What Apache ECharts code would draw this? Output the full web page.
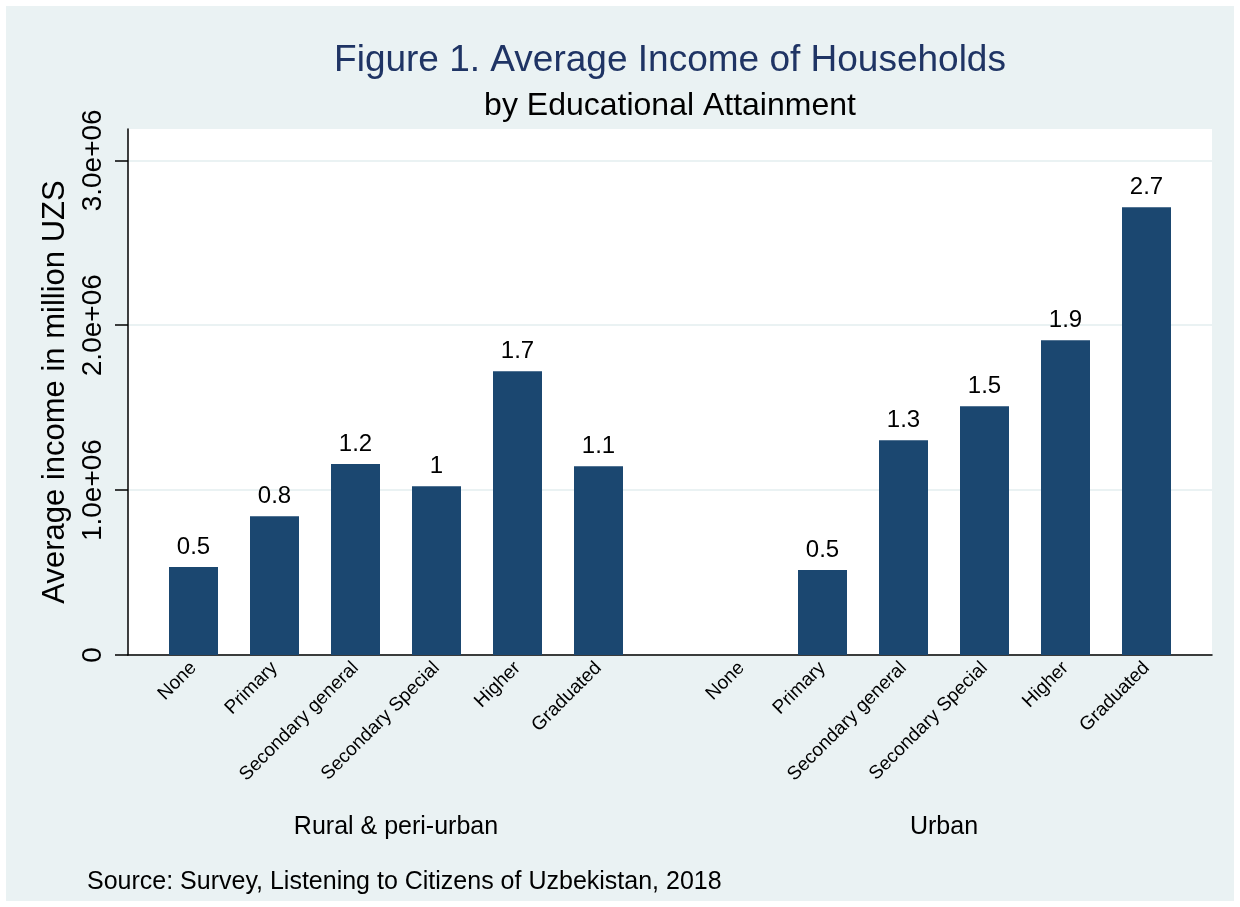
<!DOCTYPE html>
<html>
<head>
<meta charset="utf-8">
<script src="https://cdn.jsdelivr.net/npm/echarts@6/dist/echarts.min.js"></script>
<style>
  html, body { margin: 0; padding: 0; background: #fff; }
  /* white frame round the stata graph region */
  #main { position: absolute; left: 6px; top: 6px; width: 1228px; height: 895px; }
</style>
</head>
<body>
<div id="main"></div>
<script>
// chart data
const categories = ['None', 'Primary', 'Secondary general', 'Secondary Special', 'Higher', 'Graduated'];
const ruralIncome = [533000, 842000, 1158000, 1024000, 1721000, 1145000];
const urbanIncome = [null, 515000, 1303000, 1509000, 1909000, 2715000];
const groups = ['Rural & peri-urban', 'Urban'];
const yTicks = [0, 1000000, 2000000, 3000000];

const FONT = '"Liberation Sans", Arial, sans-serif';
const NAVY = '#1b4770';
const BG = '#eaf2f3';
const yMax = 3190000;

function tickLabel(v) {
  if (v === 0) return '0';
  return v.toExponential(1).replace(/e\+(\d)$/, 'e+0$1');
}
function valueLabel(p) {
  if (p.value == null) return '';
  return String(Number((p.value / 1e6).toFixed(1)));
}

const plot = { left: 122, right: 22, top: 123, bottom: 246 };

function barGrid(left) {
  return { left: left, width: 486, top: plot.top, bottom: plot.bottom, show: false };
}
function barXAxis(idx, name) {
  return {
    type: 'category', gridIndex: idx, data: categories,
    axisLine: { show: false }, axisTick: { show: false },
    axisLabel: { rotate: 45, fontSize: 19, color: '#000', fontFamily: FONT, margin: 10, interval: 0 },
    name: name, nameLocation: 'middle', nameGap: 160,
    nameTextStyle: { fontSize: 25, color: '#000', fontFamily: FONT }
  };
}
function barYAxis(idx) {
  return { type: 'value', gridIndex: idx, min: 0, max: yMax, show: false };
}
function barSeries(idx, data) {
  return {
    type: 'bar', xAxisIndex: idx, yAxisIndex: idx, data: data,
    barWidth: 49, itemStyle: { color: NAVY },
    label: { show: true, position: 'top', distance: 8, fontSize: 24, color: '#000', fontFamily: FONT, formatter: valueLabel }
  };
}

const chart = echarts.init(document.getElementById('main'));
chart.setOption({
  backgroundColor: BG,
  animation: false,
  textStyle: { fontFamily: FONT },
  grid: [
    { left: plot.left, right: plot.right, top: plot.top, bottom: plot.bottom, show: true, backgroundColor: '#fff', borderWidth: 0 },
    barGrid(147),
    barGrid(695)
  ],
  xAxis: [
    { type: 'value', gridIndex: 0, min: 0, max: 1, axisLine: { show: true, onZero: false, lineStyle: { color: '#000', width: 1.5 } },
      axisTick: { show: false }, axisLabel: { show: false }, splitLine: { show: false } },
    barXAxis(1, groups[0]),
    barXAxis(2, groups[1])
  ],
  yAxis: [
    {
      type: 'value', gridIndex: 0, min: 0, max: yMax,
      axisLine: { show: true, lineStyle: { color: '#000', width: 1.5 } },
      axisTick: { show: true, length: 13, customValues: yTicks, lineStyle: { color: '#000', width: 1.5 } },
      axisLabel: { customValues: yTicks, formatter: tickLabel, rotate: 90, fontSize: 28, color: '#000', fontFamily: FONT, margin: 21 },
      splitLine: { show: true, lineStyle: { color: BG, width: 2 } },
      name: 'Average income in million UZS', nameLocation: 'middle', nameRotate: 90, nameGap: 54,
      nameTextStyle: { fontSize: 31, color: '#000', fontFamily: FONT }
    },
    barYAxis(1),
    barYAxis(2)
  ],
  series: [
    barSeries(1, ruralIncome),
    barSeries(2, urbanIncome)
  ],
  graphic: [
    { type: 'text', x: 664, y: 55, style: { text: 'Figure 1. Average Income of Households', font: '37px ' + FONT, fill: '#1f3464', textAlign: 'center', textVerticalAlign: 'middle' } },
    { type: 'text', x: 664, y: 100, style: { text: 'by Educational Attainment', font: '32px ' + FONT, fill: '#000', textAlign: 'center', textVerticalAlign: 'middle' } },
    { type: 'text', x: 81, y: 876, style: { text: 'Source: Survey, Listening to Citizens of Uzbekistan, 2018', font: '25px ' + FONT, fill: '#000', textAlign: 'left', textVerticalAlign: 'middle' } }
  ]
});
</script>
</body>
</html>
